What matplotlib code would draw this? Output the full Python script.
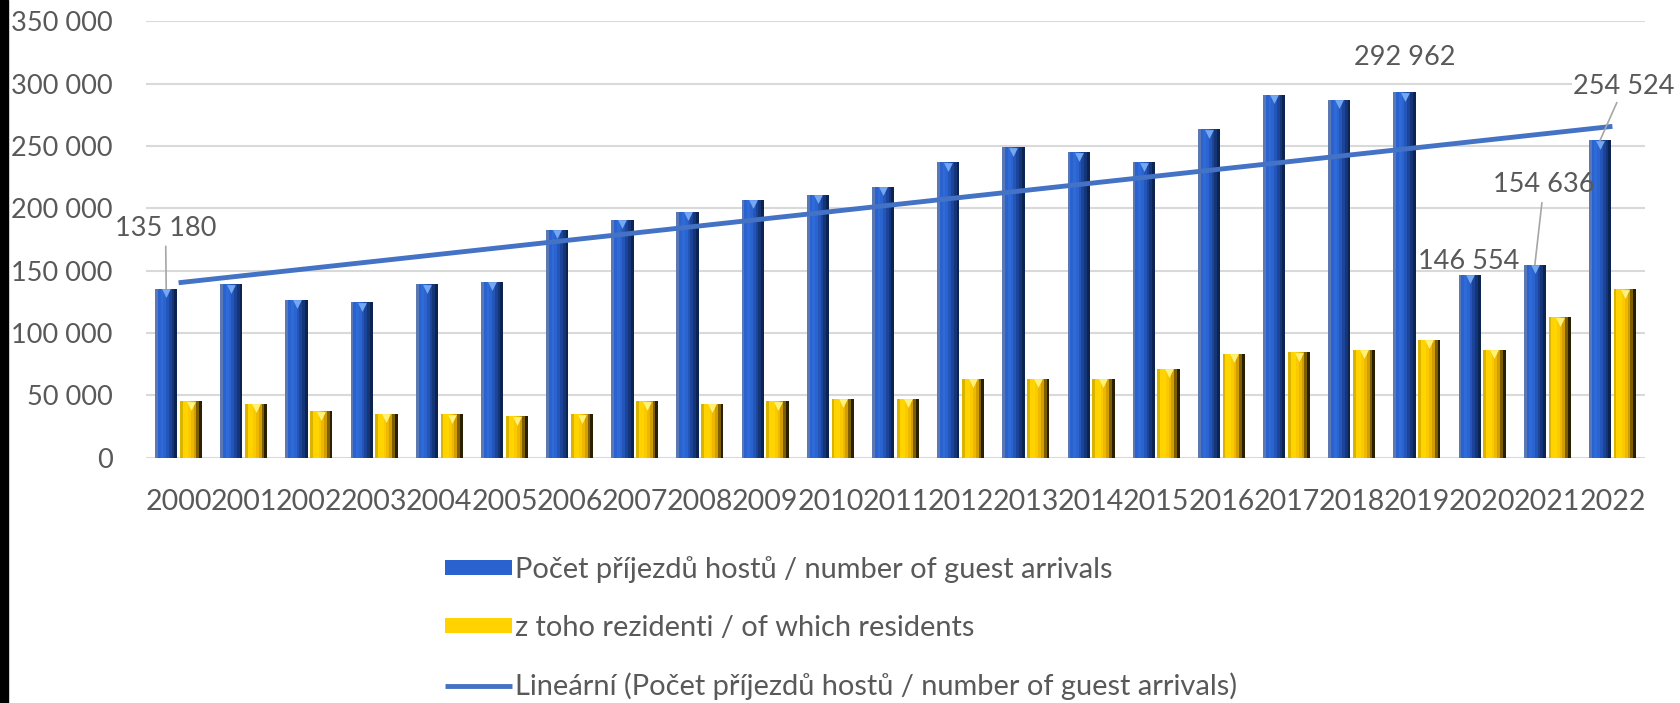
import numpy as np
import matplotlib.pyplot as plt
from matplotlib.patches import Rectangle

years = [str(y) for y in range(2000, 2023)]
arrivals = [135180, 139000, 126800, 124500, 139000, 141000, 182500, 191000,
            197000, 207000, 211000, 217000, 237000, 249000, 245000, 237000,
            263500, 291000, 287000, 292962, 146554, 154636, 254524]
residents = [45000, 43000, 37000, 35000, 34700, 33000, 34700, 45000,
             43000, 45000, 47000, 47000, 63000, 63000, 63000, 71000,
             83000, 84500, 86500, 94500, 86500, 112500, 135000]

label_arrivals = "Počet příjezdů hostů / number of guest arrivals"
label_residents = "z toho rezidenti / of which residents"
label_trend = "Lineární (Počet příjezdů hostů / number of guest arrivals)"

plt.rcParams["font.family"] = ["Lato", "DejaVu Sans"]
txt = "#595959"
fs = 19.5

fig = plt.figure(figsize=(16.8, 7.03), dpi=100)
ax = fig.add_axes([146 / 1680, 1 - 457.5 / 703, (1645 - 146) / 1680, (457.5 - 21.4) / 703])

x = np.arange(len(years))
w = 0.34
off = 0.19

blue_prof = ["#5b78b3", "#2a62cf", "#2e6bd9", "#2b64cf", "#2455b8", "#1b449a", "#143578", "#0c2452"]
yell_prof = ["#d9b400", "#ffd200", "#ffd500", "#fbc900", "#efb800", "#d19d00", "#7d5f00", "#2a2000"]


def shaded_bars(xc, vals, prof):
    n = len(prof)
    sw = w / n
    first = None
    for i, c in enumerate(prof):
        b = ax.bar(xc - w / 2 + sw * (i + 0.5), vals, width=sw * 1.02, color=c,
                   linewidth=0, zorder=3)
        if first is None:
            first = b
    return first


b1 = shaded_bars(x - off, arrivals, blue_prof)
b2 = shaded_bars(x + off, residents, yell_prof)
# bevel tops
ax.scatter(x - off, np.array(arrivals) - 3500, marker="v", s=40, color="#74a8f2", zorder=4, linewidths=0)
ax.scatter(x + off, np.array(residents) - 3500, marker="v", s=40, color="#fff27a", zorder=4, linewidths=0)

# linear trend
k, q = np.polyfit(x, arrivals, 1)
trend, = ax.plot(x, k * x + q, color="#4472c4", linewidth=3.5, zorder=5, solid_capstyle="butt")

ax.set_xlim(-0.5, len(years) - 0.5)
ax.set_ylim(0, 350000)
ax.set_yticks(range(0, 350001, 50000))
ax.set_yticklabels([f"{v:,}".replace(",", " ") for v in range(0, 350001, 50000)])
ax.set_xticks(x)
ax.set_xticklabels(years)
ax.tick_params(length=0, labelsize=fs, colors=txt)
ax.tick_params(axis="x", pad=23, labelsize=20.5)
ax.tick_params(axis="y", pad=24)
ax.grid(axis="y", color="#d9d9d9", linewidth=1.5, zorder=0)
ax.set_axisbelow(True)
for s in ax.spines.values():
    s.set_visible(False)

# data labels
lead = dict(arrowstyle="-", color="#a6a6a6", lw=1.2, shrinkA=2, shrinkB=0)
ax.annotate("135 180", xy=(-off, arrivals[0]), xytext=(-0.2, 184000), ha="center", va="center",
            fontsize=fs, color=txt, arrowprops=lead, zorder=6)
ax.annotate("292 962", xy=(19 - off, arrivals[19]), xytext=(19 - off, 321000), ha="center", va="center",
            fontsize=fs, color=txt, zorder=6)
ax.annotate("146 554", xy=(20 - off, arrivals[20]), xytext=(19.8, 157000), ha="center", va="center",
            fontsize=fs, color=txt, zorder=6)
ax.annotate("154 636", xy=(21 - off, arrivals[21]), xytext=(20.95, 219000), ha="center", va="center",
            fontsize=fs, color=txt, arrowprops=lead, zorder=6)
ax.annotate("254 524", xy=(22 - off, arrivals[22]), xytext=(22.18, 298000), ha="center", va="center",
            fontsize=fs, color=txt, arrowprops=lead, zorder=6,
            bbox=dict(boxstyle="square,pad=0.05", fc="white", ec="none"))

b1.set_label(label_arrivals)
b2.set_label(label_residents)
trend.set_label(label_trend)
leg = fig.legend(handles=[b1, b2, trend], loc="upper left",
                 bbox_to_anchor=(445 / 1680, 1 - 556 / 703), frameon=False, fontsize=20.9,
                 labelcolor=txt, borderpad=0, borderaxespad=0, handlelength=2.3,
                 handleheight=0.45, handletextpad=0.1, labelspacing=1.1)
leg.legend_handles[0].set_facecolor("#2a62cf")
leg.legend_handles[0].set_edgecolor("#143578")
leg.legend_handles[1].set_facecolor("#ffd200")
leg.legend_handles[1].set_edgecolor("#7d5f00")

fig.patches.append(Rectangle((0, 0), 8 / 1680, 1, transform=fig.transFigure, color="black"))

fig.savefig("out.png", dpi=100, facecolor="white")
